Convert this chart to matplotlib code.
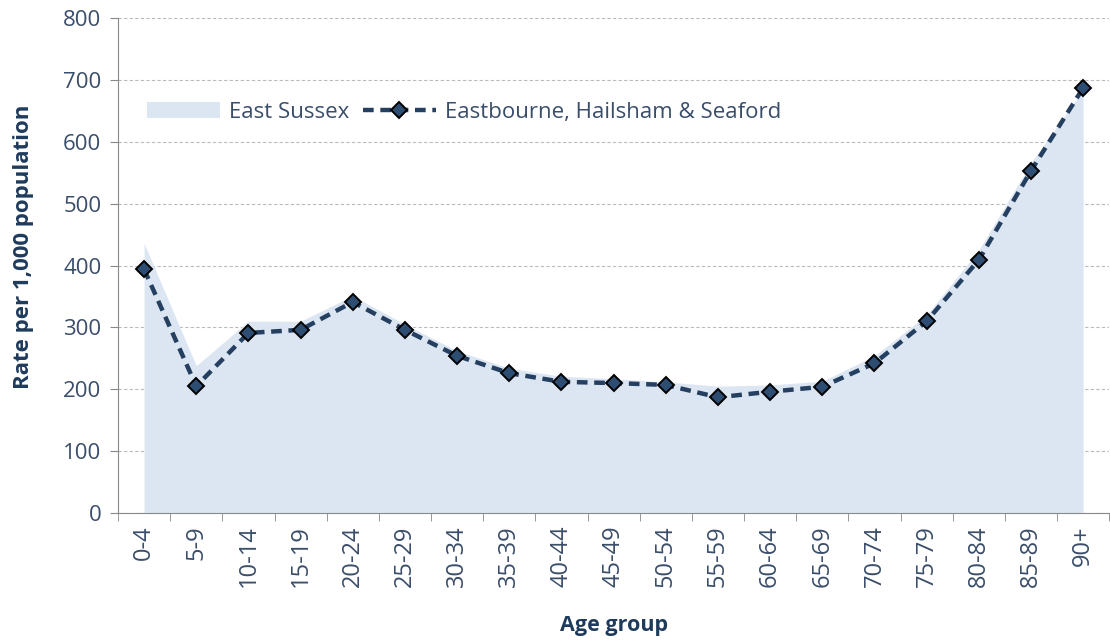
import matplotlib
matplotlib.use("Agg")
import matplotlib.pyplot as plt
import numpy as np

plt.rcParams['font.family'] = ['Open Sans', 'DejaVu Sans']

ages = ["0-4", "5-9", "10-14", "15-19", "20-24", "25-29", "30-34", "35-39",
        "40-44", "45-49", "50-54", "55-59", "60-64", "65-69", "70-74",
        "75-79", "80-84", "85-89", "90+"]
east_sussex = [436, 238, 310, 310, 351, 305, 262, 234, 221, 217, 212, 205,
               207, 213, 254, 320, 425, 566, 684]
ehs = [394, 205, 291, 296, 341, 296, 254, 226, 212, 210, 207, 187, 196, 204,
       242, 310, 409, 553, 687]

navy = "#243F60"
txt = "#3A4D6A"

fig = plt.figure(figsize=(11.1, 6.41), dpi=100)
ax = fig.add_axes([0.1063, 0.1997, 0.893, 0.7722])

x = np.arange(len(ages))
ax.fill_between(x, east_sussex, 0, color="#DCE6F2", lw=0, label="East Sussex", zorder=1)
ax.plot(x, ehs, color=navy, lw=3.2, ls=(0, (2.4, 1.5)), marker="D", ms=8.5,
        mfc="#2E4D73", mec="black", mew=1.4, label="Eastbourne, Hailsham & Seaford", zorder=3)

ax.set_xlim(-0.5, len(ages) - 0.5)
ax.set_ylim(0, 800)
ax.set_yticks(range(0, 801, 100))
ax.yaxis.grid(True, ls=(0, (3, 2)), color="#BBBBBB", lw=0.8)
ax.set_axisbelow(True)

ax.set_xticks(x)
ax.set_xticklabels(ages, rotation=90, fontsize=17, color=txt)
ax.set_xticks(np.arange(-0.5, len(ages)), minor=True)
ax.tick_params(axis="x", which="major", length=0, pad=9)
ax.tick_params(axis="x", which="minor", length=6, color="#888888")
ax.tick_params(axis="y", labelsize=16, labelcolor=txt, length=6, color="#888888", pad=6)

for s in ["top", "right"]:
    ax.spines[s].set_visible(False)
for s in ["left", "bottom"]:
    ax.spines[s].set_color("#888888")

ax.set_xlabel("Age group", fontsize=15.5, fontweight="bold", color="#1F3B5C", labelpad=20)
ax.set_ylabel("Rate per 1,000 population", fontsize=16, fontweight="bold", color="#1F3B5C")
ax.yaxis.set_label_coords(-0.085, 0.537)

leg = ax.legend(loc="center left", bbox_to_anchor=(0.029, 0.81), ncol=2, frameon=False,
                fontsize=16, handlelength=3.3, columnspacing=0.6, handletextpad=0.4,
                borderaxespad=0, borderpad=0)
for t in leg.get_texts():
    t.set_color(txt)

fig.savefig("out.png", dpi=100)
